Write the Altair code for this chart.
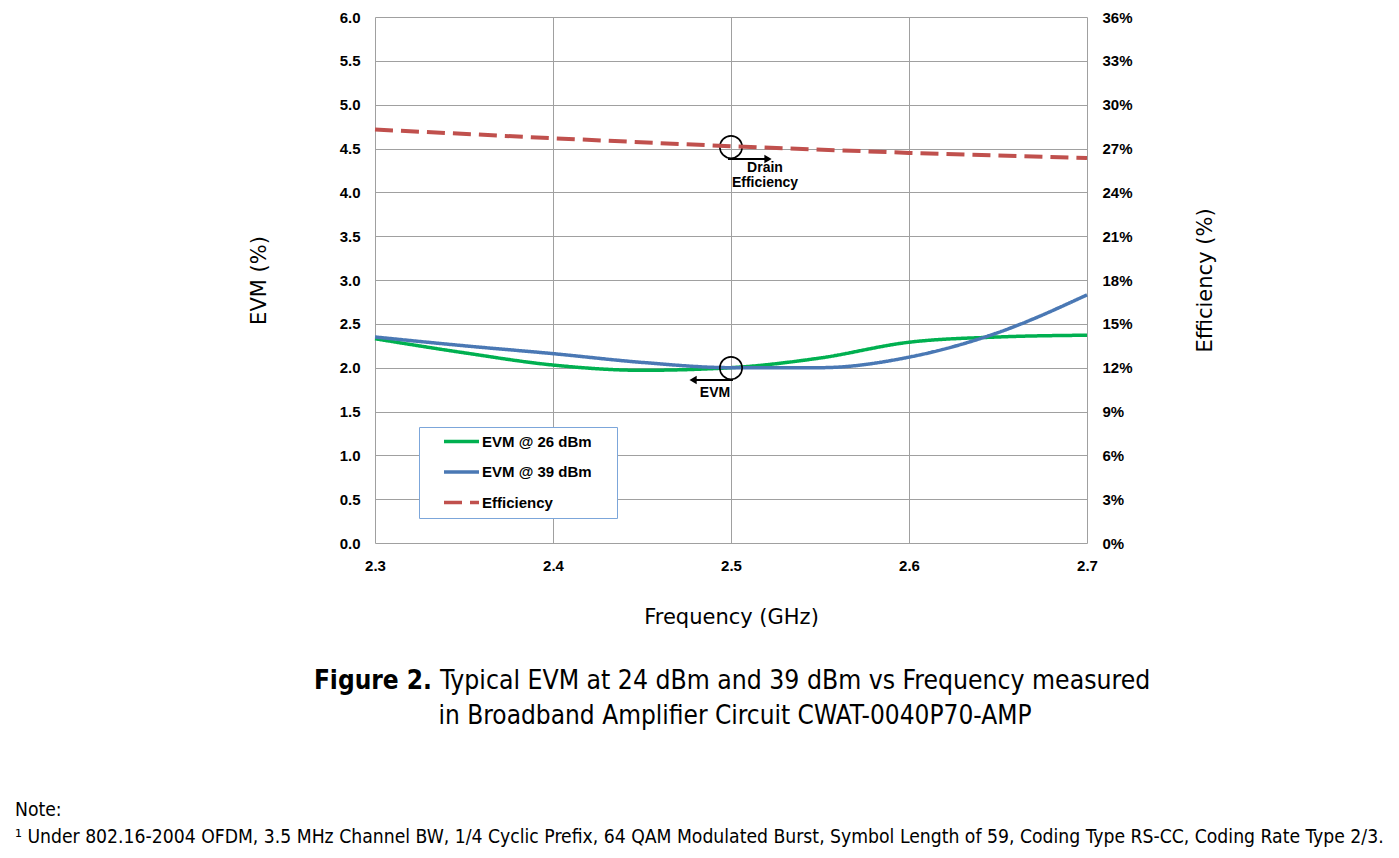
import altair as alt
import pandas as pd

# ---------------- data ----------------
FREQ = [2.30, 2.35, 2.40, 2.45, 2.50, 2.55, 2.60, 2.65, 2.70]
EVM_26 = [2.33, 2.17, 2.03, 1.97, 2.00, 2.11, 2.29, 2.35, 2.37]
EVM_39 = [2.35, 2.25, 2.16, 2.06, 2.00, 2.00, 2.12, 2.40, 2.83]
EFF_FREQ = [2.30, 2.40, 2.50, 2.60, 2.70]
EFFICIENCY = [28.3, 27.7, 27.15, 26.7, 26.35]

SERIES = ["EVM @ 26 dBm", "EVM @ 39 dBm", "Efficiency"]
COLORS = ["#00b050", "#4a78b4", "#c0504d"]

X_TICKS = [2.3, 2.4, 2.5, 2.6, 2.7]
Y_TICKS = [0.0, 0.5, 1.0, 1.5, 2.0, 2.5, 3.0, 3.5, 4.0, 4.5, 5.0, 5.5, 6.0]
Y2_TICKS = [0, 3, 6, 9, 12, 15, 18, 21, 24, 27, 30, 33, 36]

# annotations (data coordinates, EVM scale)
CIRCLE_F = [2.50, 2.50]
CIRCLE_EVM = [4.517, 1.996]
ARROW_F1 = [2.4983, 2.5011]
ARROW_F2 = [2.5208, 2.4787]
ARROW_EVM = [4.38, 1.859]
HEAD_SHAPE = ["triangle-right", "triangle-left"]
LABEL_F = [2.5191, 2.5191, 2.491]
LABEL_EVM = [4.278, 4.107, 1.711]
LABEL_TEXT = ["Drain", "Efficiency", "EVM"]

CAPTION_BOLD = "Figure 2."
CAPTION_1 = "Typical EVM at 24 dBm and 39 dBm vs Frequency measured"
CAPTION_2 = "in Broadband Amplifier Circuit CWAT-0040P70-AMP"
NOTE_1 = "Note:"
NOTE_2 = ("\u00b9 Under 802.16-2004 OFDM, 3.5 MHz Channel BW, 1/4 Cyclic Prefix, 64 QAM Modulated Burst, "
          "Symbol Length of 59, Coding Type RS-CC, Coding Rate Type 2/3.")

# ---------------- tables ----------------
evm_df = pd.DataFrame({
    "freq": FREQ * 2,
    "value": EVM_26 + EVM_39,
    "series": [SERIES[0]] * len(FREQ) + [SERIES[1]] * len(FREQ),
})
eff_df = pd.DataFrame({"freq": EFF_FREQ, "value": EFFICIENCY, "series": [SERIES[2]] * len(EFF_FREQ)})
circ_df = pd.DataFrame({"freq": CIRCLE_F, "evm": CIRCLE_EVM})
arrow_df = pd.DataFrame({"f1": ARROW_F1, "f2": ARROW_F2, "evm": ARROW_EVM, "shape": HEAD_SHAPE})
lab_df = pd.DataFrame({"freq": LABEL_F, "evm": LABEL_EVM, "text": LABEL_TEXT})

FONT = "Liberation Sans"
TFONT = "DejaVu Sans"
CFONT = "DejaVu Sans Condensed, DejaVu Sans"
W, H = 712, 526

xscale = alt.Scale(domain=[2.3, 2.7], nice=False, zero=False)
yscale = alt.Scale(domain=[0, 6], nice=False)
y2scale = alt.Scale(domain=[0, 36], nice=False)

LABEL_EXPR = "datum.label + '\u2002\u2002\u2009\u200b'"
leg_common = dict(
    title=None, orient="none", legendX=44, legendY=410,
    strokeColor="#7ca6da", fillColor="white", padding=7,
    symbolType="M2.1,0H9.1", symbolSize=100, symbolStrokeWidth=3.5,
    labelFont=FONT, labelFontSize=15, labelFontWeight="bold",
    labelColor="black", labelOffset=41, rowPadding=14.5,
    labelExpr=LABEL_EXPR, cornerRadius=0,
)
color = alt.Color("series:N", scale=alt.Scale(domain=SERIES, range=COLORS),
                  legend=alt.Legend(**leg_common))
dash = alt.StrokeDash("series:N", scale=alt.Scale(domain=SERIES, range=[[1, 0], [1, 0], [18, 8]]),
                      legend=alt.Legend(**leg_common))

xenc = alt.X("freq:Q", scale=xscale, title="Frequency (GHz)",
             axis=alt.Axis(values=X_TICKS, format=".1f", grid=True, domain=False, ticks=False,
                           labelFlush=False, labelPadding=15, titlePadding=33))

evm_lines = alt.Chart(evm_df).mark_line(strokeWidth=3.5, interpolate="monotone").encode(
    x=xenc,
    y=alt.Y("value:Q", scale=yscale, title="EVM (%)",
            axis=alt.Axis(values=Y_TICKS, format=".1f", grid=True, domain=False, ticks=False,
                          labelPadding=15, titlePadding=70)),
    color=color, strokeDash=dash,
)

circles = alt.Chart(circ_df).mark_point(shape="circle", filled=False, stroke="black",
                                        strokeWidth=1.6, size=500, opacity=1).encode(
    x=alt.X("freq:Q", scale=xscale), y=alt.Y("evm:Q", scale=yscale))
shafts = alt.Chart(arrow_df).mark_rule(color="black", strokeWidth=2).encode(
    x=alt.X("f1:Q", scale=xscale), x2="f2:Q", y=alt.Y("evm:Q", scale=yscale))
heads = alt.Chart(arrow_df).mark_point(filled=True, color="black", size=70, opacity=1).encode(
    x=alt.X("f2:Q", scale=xscale), y=alt.Y("evm:Q", scale=yscale),
    shape=alt.Shape("shape:N", scale=None))
labels = alt.Chart(lab_df).mark_text(font=FONT, fontSize=14, fontWeight="bold", color="black").encode(
    x=alt.X("freq:Q", scale=xscale), y=alt.Y("evm:Q", scale=yscale), text="text:N")

left = alt.layer(evm_lines, circles, shafts, heads, labels)

eff_line = alt.Chart(eff_df).mark_line(strokeWidth=4).encode(
    x=alt.X("freq:Q", scale=xscale),
    y=alt.Y("value:Q", scale=y2scale, title="Efficiency (%)",
            axis=alt.Axis(orient="right", values=Y2_TICKS, labelExpr="datum.value + '%'",
                          grid=False, domain=False, ticks=False, labelPadding=15,
                          titlePadding=83, titleAngle=270)),
    color=color, strokeDash=dash,
)


def txt(s, x, y, size, weight="normal", align="left", font=CFONT):
    return alt.Chart(pd.DataFrame({"t": [s]})).mark_text(
        font=font, fontSize=size, fontWeight=weight, align=align, baseline="middle",
        color="black").encode(x=alt.value(x), y=alt.value(y), text="t:N")


texts = alt.layer(
    txt(CAPTION_BOLD, 57, 664, 26, "bold", "right"),
    txt(CAPTION_1, 65, 664, 26.3),
    txt(CAPTION_2, 360, 699, 26, "normal", "center"),
    txt(NOTE_1, -360, 793, 19.2),
    txt(NOTE_2, -360, 820, 19.2),
)

chart = alt.layer(left, eff_line, texts).resolve_scale(y="independent").properties(
    width=W, height=H, padding={"left": 7, "top": 2, "right": 0, "bottom": 5}
).configure_view(stroke=None).configure_axis(
    labelFont=FONT, labelFontSize=15, labelFontWeight="bold", labelColor="black",
    titleFont=TFONT, titleFontSize=21, titleFontWeight="normal", titleColor="black",
    gridColor="#a0a0a0", gridWidth=1, gridOpacity=1,
)

chart.save("out.html", embed_options={"renderer": "svg", "actions": False})
